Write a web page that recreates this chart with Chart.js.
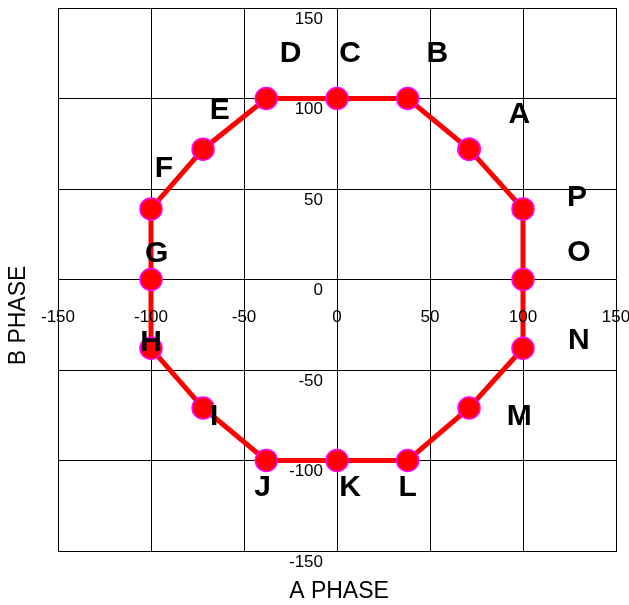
<!DOCTYPE html>
<html>
<head>
<meta charset="utf-8">
<script src="https://cdn.jsdelivr.net/npm/chart.js@4/dist/chart.umd.min.js"></script>
<style>
  html, body { margin: 0; padding: 0; background: #fff; }
  #wrap { width: 629px; height: 605px; }
</style>
</head>
<body>
<div id="wrap"><canvas id="chart"></canvas></div>
<script>
// point names and values (A phase on x, B phase on y)
const names = ["A", "B", "C", "D", "E", "F", "G", "H", "I", "J", "K", "L", "M", "N", "O", "P"];
const aPhase = [71, 38, 0, -38, -72, -100, -100, -100, -72, -38, 0, 38, 71, 100, 100, 100];
const bPhase = [72, 100, 100, 100, 72, 39, 0, -38, -71, -100, -100, -100, -71, -38, 0, 39];

// where each letter sits, in axis units
const nameX = [98, 54, 7, -25, -63, -93, -97, -100, -66, -40, 7, 38, 98, 130, 130, 129];
const nameY = [91, 125, 125, 125, 93, 61, 14, -35, -76, -115, -115, -115, -76, -34, 15, 45];

const ticks = [-150, -100, -50, 0, 50, 100, 150];

const points = aPhase.map((a, i) => ({ x: a, y: bPhase[i] }));
points.push(points[0]); // close the loop

const textPlugin = {
  id: "phaseText",
  afterDatasetsDraw(c) {
    const ctx = c.ctx;
    const xs = c.scales.x;
    const ys = c.scales.y;
    const x0 = xs.getPixelForValue(0);
    const y0 = ys.getPixelForValue(0);
    ctx.save();
    ctx.fillStyle = "#000";

    // tick labels inside the plot
    ctx.font = "17px 'Liberation Sans', Arial, sans-serif";
    ctx.textAlign = "center";
    ctx.textBaseline = "middle";
    ticks.forEach((t) => {
      ctx.fillText(String(t), xs.getPixelForValue(t), y0 + 38);
    });
    ctx.textAlign = "right";
    ticks.forEach((t) => {
      ctx.fillText(String(t), x0 - 14, ys.getPixelForValue(t) + 11);
    });

    // point letters
    ctx.font = "bold 30px 'Liberation Sans', Arial, sans-serif";
    ctx.textAlign = "center";
    names.forEach((n, i) => {
      ctx.fillText(n, xs.getPixelForValue(nameX[i]), ys.getPixelForValue(nameY[i]));
    });

    // axis titles
    ctx.font = "23px 'Liberation Sans', Arial, sans-serif";
    ctx.fillText("A PHASE", (xs.left + xs.right) / 2 + 2, 592);
    ctx.translate(19, (ys.top + ys.bottom) / 2 + 36);
    ctx.rotate(-Math.PI / 2);
    ctx.fillText("B PHASE", 0, 0);
    ctx.restore();
  },
};

new Chart(document.querySelector("#chart"), {
  type: "scatter",
  data: {
    datasets: [
      {
        data: points,
        showLine: true,
        borderColor: "#ff0000",
        borderWidth: 5,
        pointRadius: 11,
        pointHoverRadius: 11,
        pointBackgroundColor: "#ff0000",
        pointBorderColor: "#ff00ff",
        pointBorderWidth: 1.5,
      },
    ],
  },
  options: {
    responsive: true,
    maintainAspectRatio: false,
    animation: false,
    events: [],
    layout: { autoPadding: false, padding: { left: 58, top: 8, right: 13, bottom: 54 } },
    plugins: { legend: { display: false }, tooltip: { enabled: false } },
    scales: {
      x: {
        type: "linear",
        min: -150,
        max: 150,
        ticks: { display: false, stepSize: 50 },
        grid: { color: "#000", lineWidth: 1, drawTicks: false },
        border: { color: "#000", width: 1 },
      },
      y: {
        type: "linear",
        min: -150,
        max: 150,
        ticks: { display: false, stepSize: 50 },
        grid: { color: "#000", lineWidth: 1, drawTicks: false },
        border: { color: "#000", width: 1 },
      },
    },
  },
  plugins: [textPlugin],
});
</script>
</body>
</html>
